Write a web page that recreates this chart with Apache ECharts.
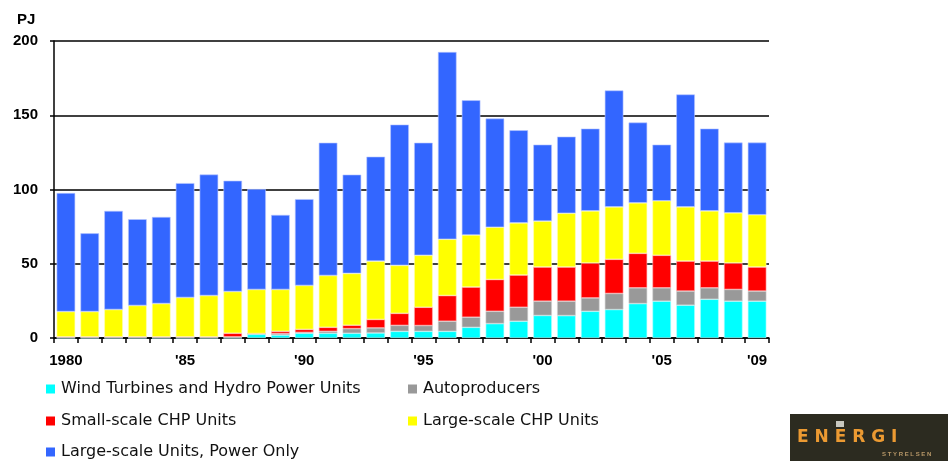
<!DOCTYPE html>
<html>
<head>
<meta charset="utf-8">
<script src="https://cdn.jsdelivr.net/npm/echarts@6/dist/echarts.min.js"></script>
<style>
  html, body { margin: 0; padding: 0; background: #fff; }
  #chart { width: 948px; height: 461px; }
</style>
</head>
<body>
<div id="chart"></div>
<script>
// categories
var years = ['1980', '1981', '1982', '1983', '1984', '1985', '1986', '1987', '1988', '1989',
  '1990', '1991', '1992', '1993', '1994', '1995', '1996', '1997', '1998', '1999',
  '2000', '2001', '2002', '2003', '2004', '2005', '2006', '2007', '2008', '2009']

// tick labels shown on the x axis
var labelYears = ['1980', '1985', '1990', '1995', '2000', '2005', '2009']
var labelTexts = ['1980', "'85", "'90", "'95", "'00", "'05", "'09"]

// series values, PJ
var windHydro = [0, 0, 0, 0, 0, 0, 0, 0, 2.5, 2,
  3.2, 3.2, 3.2, 3.4, 4.5, 4.5, 4.5, 7.2, 9.7, 11.3,
  15.2, 15.1, 18, 19.2, 23.2, 24.8, 22.1, 26.1, 24.8, 24.8]
var autoproducers = [0.8, 0.8, 0.8, 0.8, 0.8, 0.8, 0.8, 0.8, 0.5, 1,
  0.6, 1.3, 3.1, 3.4, 4, 3.9, 6.8, 6.8, 8.3, 9.4,
  9.6, 9.7, 9, 10.8, 10.6, 9, 9.5, 7.7, 7.9, 6.8]
var smallChp = [0, 0, 0, 0, 0, 0, 0, 2.4, 0, 1.5,
  2, 2.7, 2.3, 5.7, 8.1, 12.3, 17.3, 20.3, 21.4, 21.7,
  23, 23, 23.5, 23, 23.2, 21.9, 20.2, 18, 17.8, 16.2]
var largeChp = [17, 17, 18.4, 21.1, 22.4, 26.5, 27.8, 28.1, 29.7, 28.2,
  29.6, 34.9, 34.9, 39.3, 32.3, 35, 37.9, 35.1, 35.2, 35.1,
  30.9, 36.2, 35.1, 35.3, 34, 36.7, 36.5, 33.8, 33.8, 35.2]
var powerOnly = [79.8, 52.7, 66.4, 58.1, 58.3, 77, 81.5, 74.6, 67.6, 50.2,
  58.1, 89.4, 66.5, 70.3, 94.8, 75.8, 126.1, 90.7, 73.2, 62.4,
  51.5, 51.6, 55.4, 78.4, 54.1, 37.8, 75.7, 55.4, 47.3, 48.6]

var names = ['Wind Turbines and Hydro Power Units', 'Autoproducers',
  'Small-scale CHP Units', 'Large-scale CHP Units', 'Large-scale Units, Power Only']
var colors = ['#00ffff', '#999999', '#ff0000', '#ffff00', '#3366ff']
var borders = ['#b8ffff', '#d0d0d0', '#ffb0b0', '#ffffb8', '#b8c8ff']

var font = 'Liberation Sans'

var chart = echarts.init(document.getElementById('chart'))

function makeSeries(i, data) {
  return {
    name: names[i],
    type: 'bar',
    stack: 'total',
    data: data,
    barCategoryGap: '22%',
    animation: false,
    itemStyle: {
      color: colors[i],
      borderColor: borders[i],
      borderWidth: 0.6
    }
  }
}

// one legend per entry so that each sits where it does in the picture
var legendPos = [[46, 381], [408, 381], [46, 413], [408, 413], [46, 444]]

function makeLegend(i) {
  return {
    left: legendPos[i][0],
    top: legendPos[i][1],
    padding: 0,
    icon: 'rect',
    itemWidth: 9,
    itemHeight: 9,
    itemGap: 0,
    itemStyle: { borderWidth: 0 },
    data: [names[i]],
    textStyle: {
      fontFamily: 'DejaVu Sans',
      fontSize: 16,
      color: '#111',
      padding: [0, 0, 0, 1]
    }
  }
}

chart.setOption({
  backgroundColor: '#fff',
  animation: false,
  title: {
    text: 'PJ',
    left: 12,
    top: 7,
    textStyle: { fontFamily: font, fontSize: 15, fontWeight: 'bold', color: '#000' }
  },
  grid: {
    left: 54,
    right: 179,
    top: 41,
    bottom: 123
  },
  legend: [0, 1, 2, 3, 4].map(makeLegend),
  xAxis: {
    type: 'category',
    data: years,
    axisLine: { lineStyle: { color: '#000', width: 1.5 } },
    axisTick: { show: true, interval: 0, length: 5, lineStyle: { color: '#000', width: 1.5 } },
    axisLabel: {
      interval: function (index, value) {
        return labelYears.indexOf(value) >= 0
      },
      formatter: function (value) {
        return labelTexts[labelYears.indexOf(value)]
      },
      margin: 15,
      fontFamily: font,
      fontSize: 15,
      fontWeight: 'bold',
      color: '#000'
    }
  },
  yAxis: {
    type: 'value',
    min: 0,
    max: 200,
    interval: 50,
    axisLine: { show: true, lineStyle: { color: '#000', width: 1.5 } },
    axisTick: { show: true, length: 4, lineStyle: { color: '#000', width: 1.5 } },
    splitLine: { lineStyle: { color: '#000', width: 1.5 } },
    axisLabel: {
      margin: 16,
      fontFamily: font,
      fontSize: 15,
      fontWeight: 'bold',
      color: '#000'
    }
  },
  graphic: [
    {
      type: 'group',
      left: 790,
      top: 414,
      children: [
        { type: 'rect', shape: { x: 0, y: 0, width: 158, height: 47 }, style: { fill: '#2c2b20' } },
        { type: 'rect', shape: { x: 46, y: 7, width: 8, height: 6 }, style: { fill: '#c8c8c0' } },
        {
          type: 'text', x: 7, y: 15,
          style: { text: 'E N E R G I', fill: '#ec9a32', font: 'bold 17px "DejaVu Sans"' }
        },
        {
          type: 'text', x: 92, y: 37,
          style: { text: 'S T Y R E L S E N', fill: '#b89868', font: 'bold 6px "Liberation Sans"' }
        }
      ]
    }
  ],
  series: [
    makeSeries(0, windHydro),
    makeSeries(1, autoproducers),
    makeSeries(2, smallChp),
    makeSeries(3, largeChp),
    makeSeries(4, powerOnly)
  ]
})
</script>
</body>
</html>
